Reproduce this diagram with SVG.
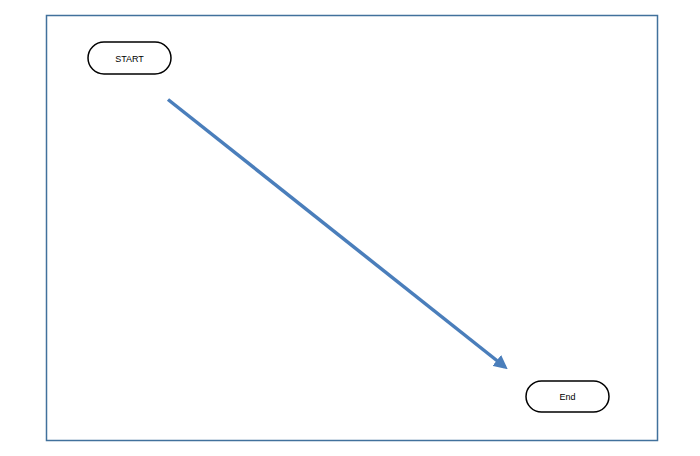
<svg xmlns="http://www.w3.org/2000/svg" width="700" height="456" viewBox="0 0 700 456">
<style>
.term{fill:#fff;stroke:#000;stroke-width:1.5}
.lbl{font-family:"Liberation Sans",Arial,sans-serif;font-size:9px;fill:#000;text-anchor:middle}
.conn{stroke:#4a7ebb;stroke-width:3.5;fill:none}
</style>
<defs>
<marker id="ah" markerWidth="4" markerHeight="4" refX="3" refY="2" orient="auto" markerUnits="strokeWidth">
<path d="M0,0 L4,2 L0,4 Z" fill="#4a7ebb"/>
</marker>
</defs>
<rect x="0" y="0" width="700" height="456" fill="#fff"/>
<rect x="46.5" y="15.5" width="611" height="425" fill="none" stroke="#41719c" stroke-width="1.5"/>
<g id="start">
<rect class="term" x="88" y="42" width="83" height="32" rx="16"/>
<text class="lbl" x="129.5" y="61.5">START</text>
</g>
<g id="end">
<rect class="term" x="526" y="381" width="83" height="31" rx="15.5"/>
<text class="lbl" x="567.5" y="399.5">End</text>
</g>
<g id="connectors">
<line class="conn" x1="168" y1="99.5" x2="505" y2="367" marker-end="url(#ah)"/>
</g>
</svg>
